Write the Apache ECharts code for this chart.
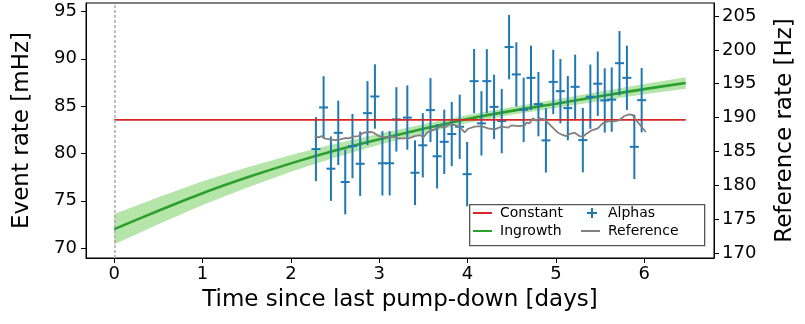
<!DOCTYPE html>
<html>
<head>
<meta charset="utf-8">
<script src="https://cdn.jsdelivr.net/npm/echarts@6/dist/echarts.min.js"></script>
<style>html,body{margin:0;padding:0;background:#fff}#c{width:805px;height:324px}</style>
</head>
<body>
<div id="c"></div>
<script>
// ---------- data ----------
const xTicks = [0, 1, 2, 3, 4, 5, 6];
const leftTicks = [70, 75, 80, 85, 90, 95];
const rightTicks = [170, 175, 180, 185, 190, 195, 200, 205];

const alphaTime = [2.283, 2.370, 2.453, 2.536, 2.615, 2.697, 2.784, 2.867, 2.951, 3.036,
  3.118, 3.194, 3.318, 3.405, 3.493, 3.580, 3.655, 3.736, 3.821, 3.911,
  3.995, 4.074, 4.157, 4.218, 4.300, 4.387, 4.470, 4.552, 4.635, 4.718,
  4.802, 4.887, 4.970, 5.051, 5.135, 5.218, 5.305, 5.390, 5.474, 5.553,
  5.632, 5.720, 5.804, 5.888, 5.971];
const alphaRate = [80.46, 84.86, 78.39, 82.18, 76.98, 80.78, 78.91, 84.26, 86.02, 78.96,
  78.96, 83.60, 83.79, 77.96, 80.86, 84.58, 79.70, 81.23, 82.05, 82.82,
  77.81, 87.64, 83.18, 87.64, 84.92, 83.42, 91.24, 88.35, 84.61, 87.99,
  85.21, 81.38, 87.56, 86.58, 84.79, 87.04, 81.41, 86.00, 87.37, 85.60,
  85.69, 89.54, 87.99, 80.70, 85.63];
const alphaErr = [3.39, 3.30, 3.40, 3.40, 3.42, 3.40, 3.40, 3.38, 3.40, 3.40,
  3.40, 3.40, 3.40, 3.42, 3.40, 3.38, 3.40, 3.40, 3.40, 3.40,
  3.40, 3.40, 3.40, 3.38, 3.40, 3.40, 3.40, 3.40, 3.40, 3.40,
  3.40, 3.40, 3.40, 3.40, 3.40, 3.40, 3.40, 3.40, 3.40, 3.40,
  3.40, 3.40, 3.40, 3.40, 3.40];

const curveTime = [0, 0.5, 1, 1.5, 2, 2.5, 3, 3.5, 4, 4.5, 5, 5.5, 6, 6.47];
const curveRate = [72.0, 73.95, 75.8, 77.45, 78.95, 80.3, 81.5, 82.6, 83.65, 84.5, 85.25, 86.05, 86.8, 87.45];
const curveBand = [1.6, 1.42, 1.25, 1.07, 0.88, 0.72, 0.58, 0.48, 0.42, 0.42, 0.45, 0.5, 0.55, 0.6];

const constantRate = 83.55;

const refTime = [2.269, 2.314, 2.351, 2.389, 2.446, 2.502, 2.559, 2.615, 2.652, 2.709,
  2.765, 2.822, 2.897, 2.935, 2.980, 3.017, 3.067, 3.123, 3.160, 3.217,
  3.330, 3.405, 3.462, 3.499, 3.536, 3.574, 3.631, 3.687, 3.744, 3.800,
  3.857, 3.913, 3.967, 4.007, 4.082, 4.157, 4.233, 4.308, 4.383, 4.458,
  4.495, 4.571, 4.647, 4.665, 4.703, 4.740, 4.778, 4.816, 4.872, 4.947,
  5.023, 5.060, 5.116, 5.155, 5.211, 5.267, 5.305, 5.342, 5.398, 5.474,
  5.530, 5.587, 5.662, 5.719, 5.775, 5.832, 5.869, 5.906, 5.963, 6.019];
const refRate = [187.27, 187.08, 187.27, 186.88, 186.79, 186.68, 186.79, 186.98, 186.93, 187.17,
  187.27, 187.76, 187.87, 187.76, 187.38, 187.17, 187.08, 187.17, 187.17, 186.93,
  186.93, 187.27, 187.42, 187.08, 187.67, 188.01, 188.26, 188.65, 188.56, 189.05,
  188.90, 188.56, 187.80, 188.35, 188.65, 188.75, 188.41, 188.26, 188.65, 188.50,
  188.85, 188.75, 188.80, 189.24, 189.15, 189.89, 189.53, 189.89, 189.74, 188.75,
  187.76, 187.53, 187.27, 187.57, 187.76, 187.27, 187.17, 187.57, 188.06, 188.41,
  189.15, 189.45, 189.45, 189.64, 190.23, 190.48, 190.38, 189.64, 188.75, 187.87];

// ---------- chart ----------
const FONT = 'DejaVu Sans';
const chart = echarts.init(document.getElementById('c'), null, {renderer: 'canvas'});

const alphaData = alphaTime.map((t, i) => [t, alphaRate[i], alphaErr[i]]);
const curveData = curveTime.map((t, i) => [t, curveRate[i]]);
const bandData = curveTime.map((t, i) => [t, curveRate[i] - curveBand[i], curveRate[i] + curveBand[i]]);
const refData = refTime.map((t, i) => [t, refRate[i]]);
const constData = [[curveTime[0], constantRate], [curveTime[curveTime.length - 1], constantRate]];

const lineIcon = 'rect';
const plusIcon = 'path://M4,0h2v4h4v2h-4v4h-2v-4h-4v-2h4z';

const legendText = {fontFamily: FONT, fontSize: 14, color: '#000', lineHeight: 14};

const option = {
  animation: false,
  backgroundColor: '#fff',
  grid: {left: 86, right: 88, top: 3, bottom: 66, show: true, borderColor: '#000', borderWidth: 1, containLabel: false},
  xAxis: {
    type: 'value', min: -0.32, max: 6.79,
    name: 'Time since last pump-down [days]', nameLocation: 'middle', nameGap: 31,
    nameTextStyle: {fontFamily: FONT, fontSize: 23, color: '#000'},
    axisLine: {show: true, onZero: false, lineStyle: {color: '#000', width: 1}},
    axisTick: {show: true, length: 5, lineStyle: {color: '#000'}, customValues: xTicks},
    axisLabel: {fontFamily: FONT, fontSize: 18, color: '#000', margin: 7, customValues: xTicks},
    splitLine: {show: false}
  },
  yAxis: [{
    type: 'value', min: 68.95, max: 95.9, position: 'left',
    name: 'Event rate [mHz]', nameLocation: 'middle', nameGap: 52,
    nameTextStyle: {fontFamily: FONT, fontSize: 23, color: '#000'},
    axisLine: {show: true, onZero: false, lineStyle: {color: '#000', width: 1}},
    axisTick: {show: true, length: 5, lineStyle: {color: '#000'}, customValues: leftTicks},
    axisLabel: {fontFamily: FONT, fontSize: 18, color: '#000', margin: 9, customValues: leftTicks},
    splitLine: {show: false}
  }, {
    type: 'value', min: 169.26, max: 206.92, position: 'right',
    name: 'Reference rate [Hz]', nameLocation: 'middle', nameGap: 60,
    nameTextStyle: {fontFamily: FONT, fontSize: 23, color: '#000'},
    axisLine: {show: true, onZero: false, lineStyle: {color: '#000', width: 1}},
    axisTick: {show: true, length: 5, lineStyle: {color: '#000'}, customValues: rightTicks},
    axisLabel: {fontFamily: FONT, fontSize: 18, color: '#000', margin: 8, customValues: rightTicks},
    splitLine: {show: false}
  }],
  legend: [{
    data: [{name: 'Constant', icon: lineIcon}, {name: 'Ingrowth', icon: lineIcon}],
    orient: 'vertical', left: 473, top: 206, padding: 0, itemGap: 4,
    itemWidth: 19, itemHeight: 2, textStyle: Object.assign({padding: [0, 0, 0, 3]}, legendText),
    selectedMode: false, z: 10
  }, {
    data: [{name: 'Alphas', icon: plusIcon}],
    orient: 'vertical', left: 587, top: 206, padding: 0,
    itemWidth: 10, itemHeight: 10, textStyle: Object.assign({padding: [0, 0, 0, 6]}, legendText),
    selectedMode: false, z: 10
  }, {
    data: [{name: 'Reference', icon: lineIcon}],
    orient: 'vertical', left: 581, top: 224, padding: 0,
    itemWidth: 19, itemHeight: 2, textStyle: Object.assign({padding: [0, 0, 0, 3]}, legendText),
    selectedMode: false, z: 10
  }],
  graphic: [{
    type: 'rect', left: 469, top: 204, z: 9,
    shape: {width: 235, height: 41},
    style: {fill: 'rgba(255,255,255,0.85)', stroke: '#555', lineWidth: 1.3}
  }],
  series: [{
    name: 'band', type: 'custom', data: bandData, xAxisIndex: 0, yAxisIndex: 0,
    encode: {x: 0, y: [1, 2]}, silent: true, z: 1,
    renderItem: function (params, api) {
      if (params.dataIndex !== 0) return null;
      const upper = bandData.map(d => api.coord([d[0], d[2]]));
      const lower = bandData.map(d => api.coord([d[0], d[1]])).reverse();
      return {type: 'polygon', shape: {points: upper.concat(lower)}, style: {fill: 'rgb(182,229,170)'}};
    }
  }, {
    name: 'Ingrowth', type: 'line', data: curveData, smooth: 0.3, showSymbol: false, symbol: 'none',
    itemStyle: {color: '#2ca02c'}, lineStyle: {color: '#2ca02c', width: 2.6}, z: 2
  }, {
    name: 'Alphas', type: 'custom', data: alphaData, encode: {x: 0, y: 1},
    itemStyle: {color: '#1f77b4'}, z: 3,
    renderItem: function (params, api) {
      const t = api.value(0), v = api.value(1), e = api.value(2);
      const top = api.coord([t, v + e]), bot = api.coord([t, v - e]), c = api.coord([t, v]);
      return {type: 'group', children: [
        {type: 'line', shape: {x1: top[0], y1: top[1], x2: bot[0], y2: bot[1]}, style: {stroke: '#1f77b4', lineWidth: 2}},
        {type: 'line', shape: {x1: c[0] - 4.5, y1: c[1], x2: c[0] + 4.5, y2: c[1]}, style: {stroke: '#1f77b4', lineWidth: 2}}
      ]};
    }
  }, {
    name: 'Constant', type: 'line', data: constData, showSymbol: false, symbol: 'none',
    itemStyle: {color: '#d62728'}, lineStyle: {color: '#d62728', width: 1.6}, z: 4,
    markLine: {
      silent: true, symbol: 'none', label: {show: false},
      lineStyle: {color: '#aaaaaa', type: [3, 2], width: 1.5},
      emphasis: {disabled: true},
      data: [{xAxis: xTicks[0]}]
    }
  }, {
    name: 'Reference', type: 'line', data: refData, yAxisIndex: 1, showSymbol: false, symbol: 'none',
    itemStyle: {color: '#808080'}, lineStyle: {color: '#808080', width: 1.8}, z: 5
  }]
};
chart.setOption(option);
</script>
</body>
</html>
